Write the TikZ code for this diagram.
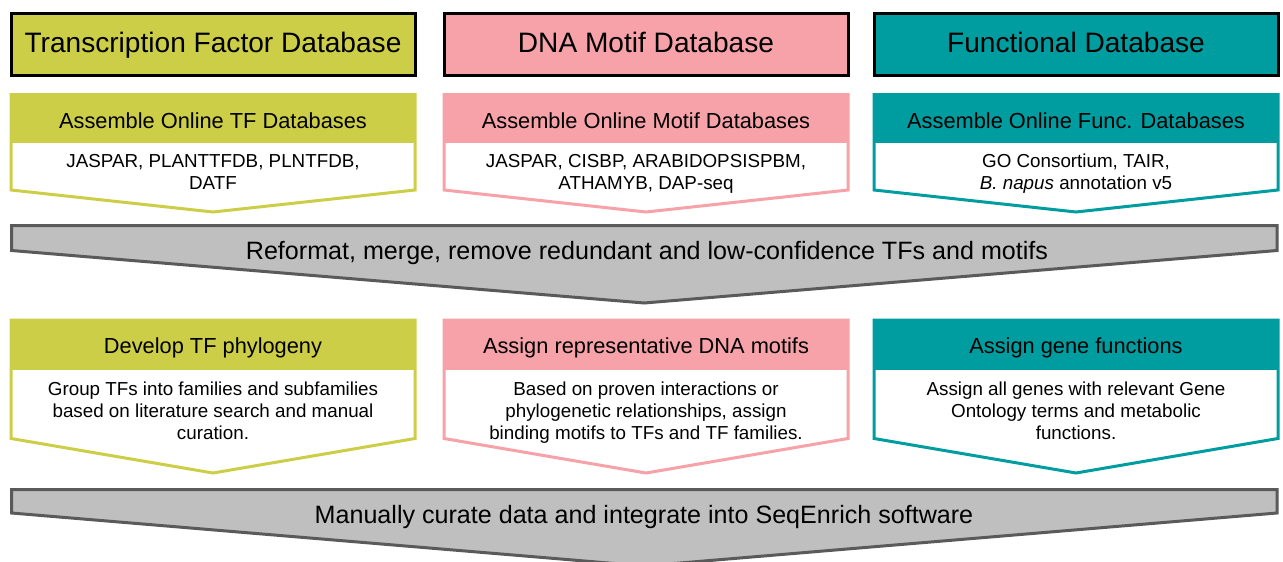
\documentclass[tikz,border=0pt]{standalone}
\usepackage{fontspec}
\setmainfont{Liberation Sans}
\definecolor{cTF}{HTML}{CDCE48}
\definecolor{cMotif}{HTML}{F6A2A8}
\definecolor{cFunc}{HTML}{009DA0}
\definecolor{cBar}{HTML}{BFBFBF}
\definecolor{cBarLine}{HTML}{5A5A5A}
\newcommand{\chevshape}[7]{%
  \pgfmathsetmacro{\chevmid}{(#1+#2)/2}%
  \fill[white] (#1,#3) -- (#2,#3) -- (#2,#5) -- (\chevmid,#6) -- (#1,#5) -- cycle;
  \fill[#7] (#1,#3) rectangle (#2,#4);
  \draw[#7, line width=3pt, line join=miter] (#1,#3) -- (#2,#3) -- (#2,#5) -- (\chevmid,#6) -- (#1,#5) -- cycle;
}
\newcommand{\barshape}[4]{%
  \draw[cBarLine, fill=cBar, line width=3pt, line join=miter] (11.5,#1) -- (1277,#1) -- (1277,#2) -- (644.25,#3) -- (11.5,#2) -- cycle;
}
\begin{document}
\begin{tikzpicture}[x=1pt,y=-1pt,
  hdr/.style={draw=black, line width=3pt, minimum width=404pt, minimum height=62.5pt,
    inner sep=0pt, font=\fontsize{28.1}{33}\selectfont, text height=20pt, text depth=4.5pt},
  subtitle/.style={anchor=base, inner sep=0pt, font=\fontsize{21.8}{25}\selectfont},
  bodytext/.style={anchor=center, inner sep=0pt, align=center, font=\fontsize{18.8}{22}\selectfont},
  bartext/.style={anchor=base, inner sep=0pt, font=\fontsize{25.1}{30}\selectfont}]
\clip (0,0) rectangle (1283,562);
\fill[white] (0,0) rectangle (1283,562);

% headers
\node[hdr, fill=cTF] (h1) at (213,44.25) {Transcription Factor Database};
\node[hdr, fill=cMotif] (h2) at (646,44.25) {DNA Motif Database};
\node[hdr, fill=cFunc] (h3) at (1076,44.25) {Functional Database};

% row 1 chevrons
\chevshape{11}{415}{94.5}{143.3}{190}{212}{cTF}
\chevshape{444}{848}{94.5}{143.3}{190}{212}{cMotif}
\chevshape{874}{1278}{94.5}{143.3}{190}{212}{cFunc}

\node[subtitle] (s1) at (213,128) {Assemble Online TF Databases};
\node[subtitle] (s2) at (646,128) {Assemble Online Motif Databases};
\node[subtitle] (s3) at (1076,128) {Assemble Online Func. Databases};

\node[bodytext] (b1) at (213,171.5) {JASPAR, PLANTTFDB, PLNTFDB,\\DATF};
\node[bodytext] (b2) at (646,173.4) {JASPAR, CISBP, ARABIDOPSISPBM,\\ATHAMYB, DAP-seq};
\node[bodytext] (b3) at (1076,173.4) {GO Consortium, TAIR,\\\textit{B. napus} annotation v5};

% bar 1
\barshape{225.5}{250.5}{303}{}
\node[bartext] (r1) at (647,259) {Reformat, merge, remove redundant and low-confidence TFs and motifs};

% row 2 chevrons
\chevshape{11}{415}{320}{370}{438.5}{473}{cTF}
\chevshape{444}{848}{320}{370}{438.5}{473}{cMotif}
\chevshape{874}{1278}{320}{370}{438.5}{473}{cFunc}

\node[subtitle] (t1) at (213,353) {Develop TF phylogeny};
\node[subtitle] (t2) at (646,353) {Assign representative DNA motifs};
\node[subtitle] (t3) at (1076,353) {Assign gene functions};

\node[bodytext] (d1) at (213,411) {Group TFs into families and subfamilies\\based on literature search and manual\\curation.};
\node[bodytext] (d2) at (646,413) {Based on proven interactions or\\phylogenetic relationships, assign\\binding motifs to TFs and TF families.};
\node[bodytext] (d3) at (1076,411) {Assign all genes with relevant Gene\\Ontology terms and metabolic\\functions.};

% bar 2
\barshape{489.5}{513}{566}{}
\node[bartext] (r2) at (644,523) {Manually curate data and integrate into SeqEnrich software};
\end{tikzpicture}
\end{document}
